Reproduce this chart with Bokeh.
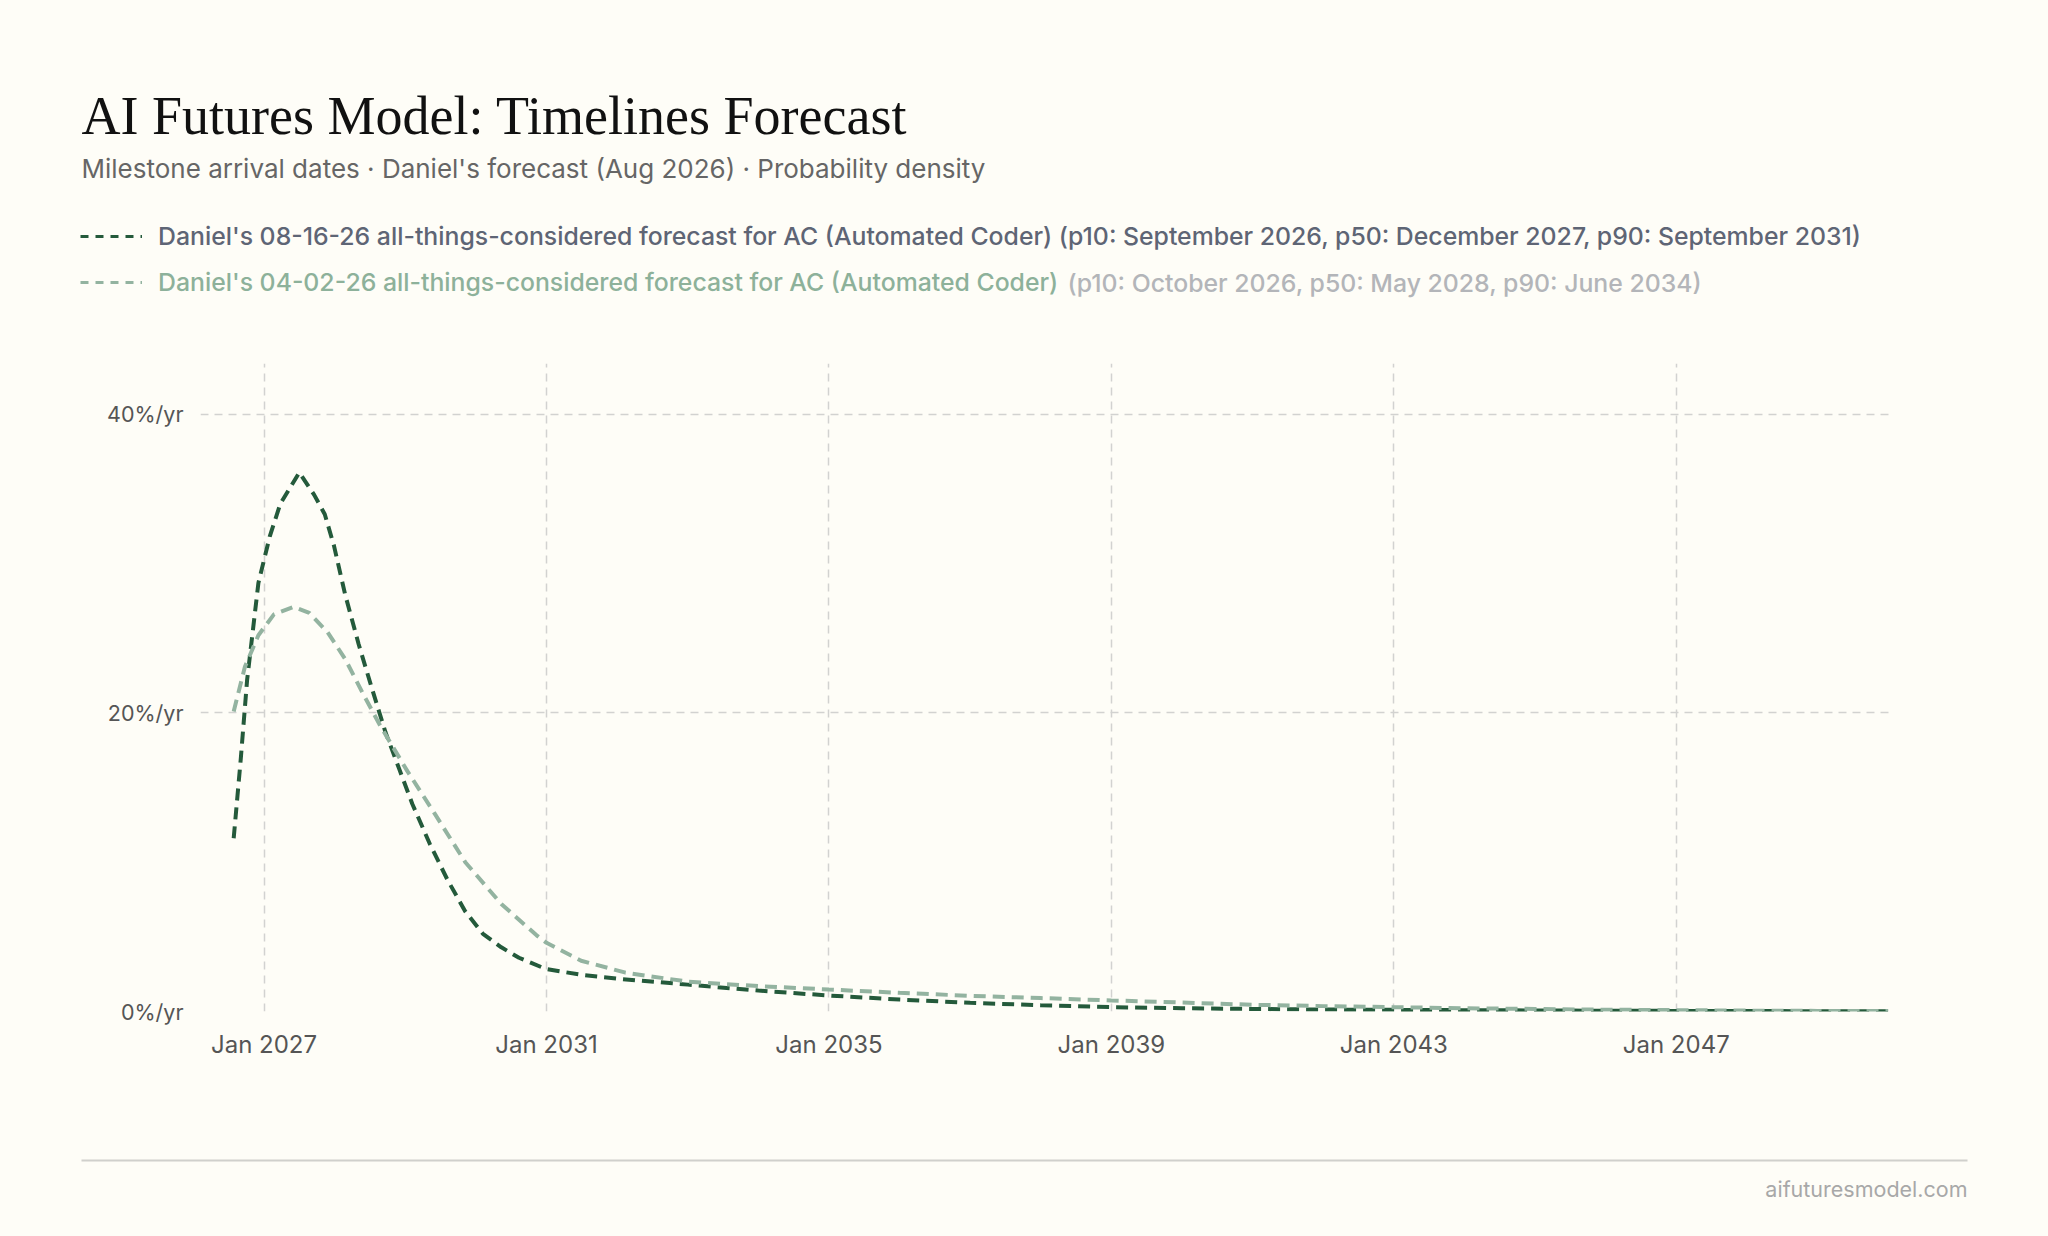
from bokeh.plotting import figure
from bokeh.layouts import column
from bokeh.models import Range1d, FixedTicker, Label, Legend, LegendItem, BoxAnnotation
from bokeh.embed import file_html
from bokeh.resources import INLINE

# forecast densities (decimal year, %/yr)
years_aug = [2026.57, 2026.67, 2026.76, 2026.92, 2027.08, 2027.23, 2027.50, 2027.71,
             2027.86, 2027.99, 2028.15, 2028.34, 2028.53, 2028.72, 2028.91, 2029.10,
             2029.35, 2029.60, 2029.85, 2030.10, 2030.36, 2030.61, 2030.99, 2031.50,
             2032.0, 2033.0, 2034.0, 2035.0, 2036.0, 2037.0, 2038.0, 2039.0, 2040.0,
             2041.0, 2042.0, 2043.0, 2044.0, 2045.0, 2046.0, 2047.0, 2048.0, 2049.0, 2050.0]
dens_aug = [11.6, 16.9, 22.2, 28.7, 31.8, 34.0, 36.1, 34.6,
            33.3, 31.2, 27.9, 24.6, 21.6, 18.7, 16.3, 13.9,
            11.2, 8.8, 6.7, 5.2, 4.3, 3.6, 2.85, 2.45,
            2.2, 1.8, 1.4, 1.07, 0.8, 0.58, 0.42, 0.29, 0.22,
            0.17, 0.13, 0.11, 0.09, 0.07, 0.05, 0.04, 0.03, 0.02, 0.02]

years_apr = [2026.57, 2026.73, 2026.92, 2027.14, 2027.42, 2027.64, 2027.90, 2028.15,
             2028.40, 2028.65, 2029.03, 2029.41, 2029.85, 2030.36, 2030.86, 2031.0,
             2031.49, 2032.12, 2033.0, 2034.0, 2035.0, 2036.0, 2037.0, 2038.0, 2039.0,
             2040.0, 2041.0, 2042.0, 2043.0, 2044.0, 2045.0, 2046.0, 2047.0, 2048.0,
             2049.0, 2050.0]
dens_apr = [20.1, 23.1, 25.2, 26.6, 27.1, 26.7, 25.4, 23.6,
            21.3, 19.1, 16.1, 13.3, 10.0, 7.2, 5.1, 4.6,
            3.4, 2.6, 2.0, 1.7, 1.47, 1.25, 1.05, 0.9, 0.74,
            0.6, 0.45, 0.36, 0.29, 0.22, 0.17, 0.12, 0.09, 0.06,
            0.04, 0.03]

x_ticks = [2027, 2031, 2035, 2039, 2043, 2047]
x_tick_labels = ["Jan 2027", "Jan 2031", "Jan 2035", "Jan 2039", "Jan 2043", "Jan 2047"]
y_ticks = [0, 20, 40]
y_tick_labels = ["0%/yr", "20%/yr", "40%/yr"]

title = "AI Futures Model: Timelines Forecast"
subtitle = "Milestone arrival dates \u00b7 Daniel's forecast (Aug 2026) \u00b7 Probability density"
name_aug = "Daniel's 08-16-26 all-things-considered forecast for AC (Automated Coder)"
stats_aug = "(p10: September 2026, p50: December 2027, p90: September 2031)"
name_apr = "Daniel's 04-02-26 all-things-considered forecast for AC (Automated Coder)"
stats_apr = "(p10: October 2026, p50: May 2028, p90: June 2034)"
source = "aifuturesmodel.com"

BG = "#fefdf7"
DARK = "#245a3b"
LIGHT = "#93b3a0"
SANS = "Inter"
KEY_FONT = "Inter Medium"
W = 2040
DASH = "12 7"
NAN = float("nan")


def blank(height, y_top, y_bottom):
    # a figure whose data units are the page's pixels
    f = figure(width=W, height=height, output_backend="svg", toolbar_location=None,
               x_range=Range1d(0, W), y_range=Range1d(y_bottom, y_top),
               x_axis_type=None, y_axis_type=None, min_border=0, frame_align=False)
    f.background_fill_color = BG
    f.border_fill_color = BG
    f.outline_line_color = None
    f.grid.visible = False
    return f


# header: title, subtitle and legend
head = blank(363, 0, 363)
head.add_layout(Label(x=81, y=115, text=title, text_font="Liberation Serif",
                      text_font_size="54px", text_color="#111111",
                      text_baseline="alphabetic"))
head.add_layout(Label(x=81, y=168, text=subtitle, text_font=SANS,
                      text_font_size="26px", text_color="#666666",
                      text_baseline="alphabetic"))

# legend keys only (nothing drawn in the header itself)
key_aug = head.line([NAN], [NAN], line_color=DARK, line_width=3, line_dash="8 7")
key_apr = head.line([NAN], [NAN], line_color=LIGHT, line_width=3, line_dash="8 7")


def add_key(label, renderer, color, y):
    lg = Legend(items=[LegendItem(label=label, renderers=[renderer])],
                location=(80, y), orientation="vertical",
                label_text_font=KEY_FONT, label_text_font_size="24.8px",
                label_text_color=color, glyph_width=62, glyph_height=24,
                label_height=24, label_standoff=16, padding=0, margin=0, spacing=0,
                border_line_color=None, background_fill_alpha=0)
    head.add_layout(lg, "center")


add_key(name_aug + " " + stats_aug, key_aug, "#5e6575", 112)
add_key(name_apr, key_apr, "#8db19a", 66)
head.add_layout(Label(x=1067, y=282, text=stats_apr, text_font=KEY_FONT,
                      text_font_size="24.8px", text_color="#b3b5b9",
                      text_baseline="middle"))

# main chart
p = figure(width=W, height=740, output_backend="svg", toolbar_location=None,
           x_range=Range1d(2026.1, 2050.02), y_range=Range1d(0, 43.4),
           min_border_left=200, min_border_right=W - 1889, min_border_top=0,
           min_border_bottom=92, frame_align=False)
p.background_fill_color = BG
p.border_fill_color = BG
p.outline_line_color = None

p.line(years_aug, dens_aug, line_color=DARK, line_width=4, line_dash=DASH)
p.line(years_apr, dens_apr, line_color=LIGHT, line_width=4, line_dash=DASH)

for ax in (p.xaxis[0], p.yaxis[0]):
    ax.axis_line_color = None
    ax.major_tick_line_color = None
    ax.minor_tick_line_color = None
    ax.major_label_text_font = SANS
    ax.major_label_text_color = "#555555"

p.xaxis.ticker = FixedTicker(ticks=x_ticks)
p.xaxis.major_label_overrides = dict(zip(x_ticks, x_tick_labels))
p.xaxis.major_label_standoff = 12
p.xaxis.major_label_text_font_size = "24px"
p.yaxis.ticker = FixedTicker(ticks=y_ticks)
p.yaxis.major_label_overrides = dict(zip(y_ticks, y_tick_labels))
p.yaxis.major_label_standoff = 11
p.yaxis.major_label_text_font_size = "21.5px"

for g in (p.xgrid[0], p.ygrid[0]):
    g.grid_line_color = "#d2d2d0"
    g.grid_line_width = 1.5
    g.grid_line_dash = "8 6"

# footer
foot = blank(127, 1103, 1230)
foot.add_layout(BoxAnnotation(left=81, right=1967, top=1159, bottom=1161,
                              fill_color="#d0d0cc", fill_alpha=1, line_color=None))
foot.add_layout(Label(x=1967, y=1188, text=source, text_font=SANS,
                      text_font_size="21.5px", text_color="#a8a8a8",
                      text_align="right", text_baseline="middle"))

page = column(head, p, foot, spacing=0)
html = file_html(page, INLINE)
html = html.replace("<body>", '<body style="background:%s">' % BG)
open("out.html", "w").write(html)
